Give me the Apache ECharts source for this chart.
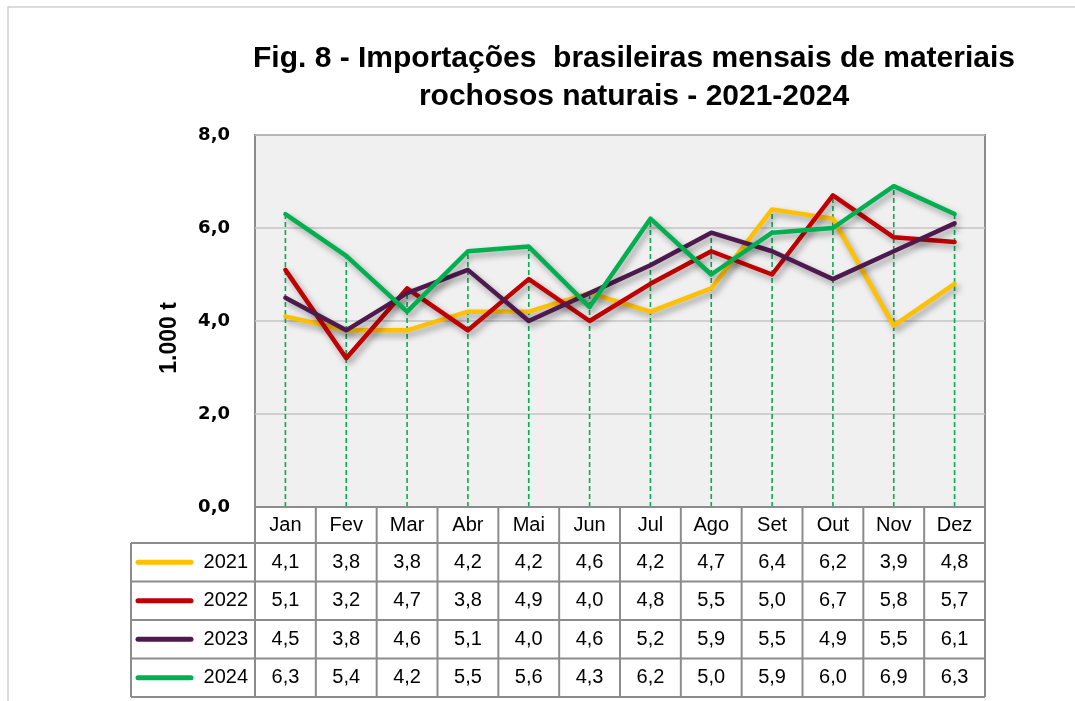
<!DOCTYPE html>
<html>
<head>
<meta charset="utf-8">
<script src="https://cdn.jsdelivr.net/npm/echarts@6/dist/echarts.min.js"></script>
<style>
  html, body { margin: 0; padding: 0; background: #fff; }
  #chart { width: 1075px; height: 701px; }
</style>
</head>
<body>
<div id="chart"></div>
<script>
// meses
var months = ['Jan', 'Fev', 'Mar', 'Abr', 'Mai', 'Jun', 'Jul', 'Ago', 'Set', 'Out', 'Nov', 'Dez'];
var years = ['2021', '2022', '2023', '2024'];
// 1.000 t
var v2021 = [4.1, 3.8, 3.8, 4.2, 4.2, 4.6, 4.2, 4.7, 6.4, 6.2, 3.9, 4.8];
var v2022 = [5.1, 3.2, 4.7, 3.8, 4.9, 4.0, 4.8, 5.5, 5.0, 6.7, 5.8, 5.7];
var v2023 = [4.5, 3.8, 4.6, 5.1, 4.0, 4.6, 5.2, 5.9, 5.5, 4.9, 5.5, 6.1];
var v2024 = [6.3, 5.4, 4.2, 5.5, 5.6, 4.3, 6.2, 5.0, 5.9, 6.0, 6.9, 6.3];
var yTicks = [0, 2, 4, 6, 8];

var values = [v2021, v2022, v2023, v2024];
var colors = ['#FFC000', '#C00000', '#4E1A4E', '#00B050'];

var gLeft = 255, gTop = 135, gW = 730, gH = 372;
var gBottom = gTop + gH;
var colW = gW / months.length;
var rowTop = [543, 581.5, 620, 658.5];
var rowH = 38.5;
var tableLeft = 131;
var fmt = function (v) { return v.toFixed(1).replace('.', ','); };

var chart = echarts.init(document.getElementById('chart'));

// tabela de dados
var graphic = [];
graphic.push({
  type: 'rect', shape: { x: 8, y: 7, width: 1100, height: 720 },
  style: { fill: 'none', stroke: '#cfcfcf', lineWidth: 1.5 }, z: -10, silent: true
});
graphic.push({
  type: 'text', x: 634, y: 40, z: 10,
  style: {
    text: 'Fig. 8 - Importações  brasileiras mensais de materiais\nrochosos naturais - 2021-2024',
    font: 'bold 30px "Liberation Sans Narrow", "Liberation Sans", sans-serif',
    fill: '#000', align: 'center', lineHeight: 38
  }
});
var lineSt = { stroke: '#8c8c8c', lineWidth: 2 };
// horizontais
graphic.push({ type: 'line', shape: { x1: gLeft, y1: gBottom, x2: gLeft + gW, y2: gBottom }, style: lineSt, z: 20 });
for (var r = 0; r <= years.length; r++) {
  var yy = rowTop[0] + r * rowH;
  graphic.push({ type: 'line', shape: { x1: tableLeft, y1: yy, x2: gLeft + gW, y2: yy }, style: lineSt, z: 20 });
}
// verticais
var tBottom = rowTop[0] + years.length * rowH;
graphic.push({ type: 'line', shape: { x1: tableLeft, y1: rowTop[0], x2: tableLeft, y2: tBottom }, style: lineSt, z: 20 });
for (var c = 0; c <= months.length; c++) {
  var xx = gLeft + c * colW;
  graphic.push({ type: 'line', shape: { x1: xx, y1: gBottom, x2: xx, y2: tBottom }, style: lineSt, z: 20 });
}
years.forEach(function (yr, i) {
  var cy = rowTop[i] + rowH / 2;
  graphic.push({
    type: 'line', shape: { x1: 138, y1: cy, x2: 191, y2: cy },
    style: { stroke: colors[i], lineWidth: 5, lineCap: 'round' }, z: 20
  });
  graphic.push({
    type: 'text', x: 248, y: cy, z: 20,
    style: { text: yr, font: '20px "Liberation Sans", sans-serif', fill: '#000', align: 'right', verticalAlign: 'middle' }
  });
  values[i].forEach(function (v, j) {
    graphic.push({
      type: 'text', x: gLeft + (j + 0.5) * colW, y: cy, z: 20,
      style: { text: fmt(v), font: '20px "Liberation Sans", sans-serif', fill: '#000', align: 'center', verticalAlign: 'middle' }
    });
  });
});

var dropData = months.map(function (m, j) {
  return [j, Math.max(v2021[j], v2022[j], v2023[j], v2024[j])];
});

var series = [{
  type: 'custom',
  z: 1,
  silent: true,
  data: dropData,
  renderItem: function (params, api) {
    var p0 = api.coord([api.value(0), 0]);
    var p1 = api.coord([api.value(0), api.value(1)]);
    return {
      type: 'line',
      shape: { x1: p0[0], y1: p0[1], x2: p1[0], y2: p1[1] },
      style: { stroke: '#00B050', lineWidth: 1.6, lineDash: [5, 3] }
    };
  }
}];
years.forEach(function (yr, i) {
  series.push({
    name: yr,
    type: 'line',
    data: values[i],
    symbol: 'none',
    z: 3 + i,
    lineStyle: {
      color: colors[i], width: 4.5, cap: 'round', join: 'round',
      shadowColor: 'rgba(0,0,0,0.35)', shadowBlur: 6, shadowOffsetX: 3, shadowOffsetY: 4
    },
    itemStyle: { color: colors[i] }
  });
});

chart.setOption({
  animation: false,
  backgroundColor: '#fff',
  grid: {
    left: gLeft, top: gTop, width: gW, height: gH,
    show: true, backgroundColor: '#f0f0f0', borderColor: '#8c8c8c', borderWidth: 2
  },
  xAxis: {
    type: 'category',
    data: months,
    boundaryGap: true,
    axisLine: { show: false },
    axisTick: { show: false },
    axisLabel: {
      interval: 0, margin: 8, color: '#000', fontSize: 20,
      fontFamily: '"Liberation Sans", sans-serif'
    }
  },
  yAxis: {
    type: 'value',
    min: yTicks[0], max: yTicks[yTicks.length - 1], interval: 2,
    name: '1.000 t',
    nameLocation: 'middle',
    nameGap: 74,
    nameRotate: 90,
    nameTextStyle: {
      color: '#000', fontSize: 23, fontWeight: 'bold',
      fontFamily: '"Liberation Sans", sans-serif', padding: [0, 34, 0, 0]
    },
    axisLine: { show: false },
    axisTick: { show: false },
    axisLabel: {
      margin: 25, color: '#000', fontSize: 18, fontWeight: 'bold',
      fontFamily: '"DejaVu Sans", sans-serif',
      formatter: fmt
    },
    splitLine: { lineStyle: { color: '#c4c4c4', width: 1.5 } }
  },
  graphic: graphic,
  series: series
});
</script>
</body>
</html>
